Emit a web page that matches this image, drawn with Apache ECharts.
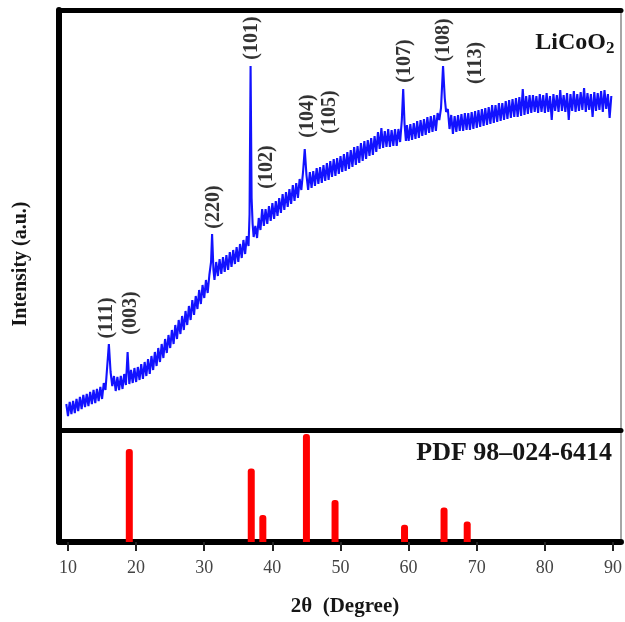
<!DOCTYPE html>
<html>
<head>
<meta charset="utf-8">
<script src="https://cdn.jsdelivr.net/npm/echarts@6/dist/echarts.min.js"></script>
<style>
html,body{margin:0;padding:0;background:#fff;}
#chart{width:625px;height:622px;}
</style>
</head>
<body>
<div id="chart"></div>
<script>
// ---- Data ----
const xTicks = [10, 20, 30, 40, 50, 60, 70, 80, 90];

// measured pattern: [2theta, intensity (a.u.)]
const scanData = [
[9.75,26],[10,14],[10.25,28],[10.5,16],
[10.75,29],[11,17],[11.25,31],[11.5,19],
[11.75,33],[12,21],[12.25,35],[12.5,23],
[12.75,36],[13,24],[13.25,38],[13.5,26],
[13.75,40],[14,27],[14.25,41],[14.5,29],
[14.75,43],[15,31],[15.25,47],[15.5,40],
[15.75,63],[16,86],[16.25,58],[16.5,44],
[16.75,54],[17,39],[17.25,53],[17.5,40],
[17.75,54],[18,41],[18.25,56],[18.5,45],
[18.75,78],[19,46],[19.25,60],[19.5,47],
[19.75,62],[20,48],[20.25,63],[20.5,50],
[20.75,66],[21,51],[21.25,68],[21.5,54],
[21.75,71],[22,56],[22.25,74],[22.5,60],
[22.75,78],[23,64],[23.25,82],[23.5,68],
[23.75,86],[24,72],[24.25,91],[24.5,77],
[24.75,95],[25,82],[25.25,100],[25.5,86],
[25.75,105],[26,91],[26.25,110],[26.5,96],
[26.75,114],[27,100],[27.25,119],[27.5,105],
[27.75,124],[28,110],[28.25,130],[28.5,115],
[28.75,134],[29,121],[29.25,140],[29.5,126],
[29.75,145],[30,132],[30.25,150],[30.5,137],
[30.75,155],[31,168],[31.15,196],[31.35,160],[31.5,150],[31.75,168],
[32,154],[32.25,171],[32.5,156],[32.75,173],
[33,158],[33.25,175],[33.5,160],[33.75,178],
[34,163],[34.25,180],[34.5,166],[34.75,183],
[35,168],[35.25,186],[35.5,172],[35.75,190],
[36,176],[36.25,194],[36.5,184],[36.65,216],[36.8,364],[36.95,232],[37.1,206],
[37.25,193],[37.5,204],[37.75,192],
[38,212],[38.25,200],[38.5,221],[38.75,204],
[39,221],[39.25,206],[39.5,224],[39.75,209],
[40,227],[40.25,211],[40.5,229],[40.75,214],
[41,232],[41.25,217],[41.5,236],[41.75,220],
[42,238],[42.25,223],[42.5,241],[42.75,226],
[43,245],[43.25,229],[43.5,247],[43.75,232],
[44,251],[44.25,240],[44.5,258],[44.75,281],[45,255],[45.25,240],
[45.5,258],[45.75,242],[46,259],[46.25,244],
[46.5,262],[46.75,246],[47,263],[47.25,247],
[47.5,265],[47.75,249],[48,267],[48.25,250],
[48.5,269],[48.75,253],[49,271],[49.25,254],
[49.5,272],[49.75,256],[50,274],[50.25,258],
[50.5,276],[50.75,259],[51,278],[51.25,261],
[51.5,280],[51.75,263],[52,283],[52.25,265],
[52.5,284],[52.75,267],[53,287],[53.25,269],
[53.5,289],[53.75,271],[54,290],[54.25,274],
[54.5,292],[54.75,275],[55,294],[55.25,278],
[55.5,298],[55.75,281],[56,302],[56.25,282],
[56.5,299],[56.75,283],[57,301],[57.25,283],
[57.5,300],[57.75,284],[58,301],[58.25,284],
[58.5,301],[58.75,288],[59,310],[59.2,341],[59.4,306],[59.6,289],
[59.75,305],[60,289],[60.25,306],[60.5,290],
[60.75,307],[61,291],[61.25,309],[61.5,292],
[61.75,310],[62,294],[62.25,311],[62.5,295],
[62.75,313],[63,297],[63.25,314],[63.5,298],
[63.75,315],[64,299],[64.25,317],[64.5,310],
[64.75,322],[65.05,364],[65.3,332],[65.5,318],
[65.75,321],[66,301],[66.25,315],[66.5,296],
[66.75,314],[67,298],[67.25,315],[67.5,299],
[67.75,316],[68,299],[68.25,317],[68.5,300],
[68.75,317],[69,300],[69.25,318],[69.5,301],
[69.75,319],[70,302],[70.25,320],[70.5,303],
[70.75,321],[71,304],[71.25,322],[71.5,305],
[71.75,323],[72,306],[72.25,325],[72.5,307],
[72.75,325],[73,308],[73.25,327],[73.5,309],
[73.75,327],[74,310],[74.25,329],[74.5,311],
[74.75,330],[75,312],[75.25,331],[75.5,313],
[75.75,332],[76,313],[76.25,333],[76.5,314],
[76.75,341],[77,315],[77.25,334],[77.5,316],
[77.75,335],[78,317],[78.25,335],[78.5,318],
[78.75,334],[79,317],[79.25,336],[79.5,318],
[79.75,335],[80,317],[80.25,337],[80.5,318],
[80.75,334],[81,310],[81.25,336],[81.5,319],
[81.75,335],[82,318],[82.25,340],[82.5,319],
[82.75,335],[83,318],[83.25,337],[83.5,310],
[83.75,336],[84,319],[84.25,339],[84.5,318],
[84.75,336],[85,319],[85.25,338],[85.5,320],
[85.75,342],[86,318],[86.25,337],[86.5,320],
[86.75,336],[87,313],[87.25,338],[87.5,319],
[87.75,337],[88,320],[88.25,339],[88.5,318],
[88.75,340],[89,321],[89.25,336],[89.5,312],
[89.75,334]
];

// peak labels: [text, 2theta, intensity at label centre]
const peakLabels = [
  ['(111)', 15.7, 112],
  ['(003)', 19.2, 117],
  ['(220)', 31.4, 223],
  ['(101)', 36.95, 392],
  ['(102)', 39.2, 263],
  ['(104)', 45.2, 314],
  ['(105)', 48.5, 318],
  ['(107)', 59.5, 369],
  ['(108)', 65.2, 390],
  ['(113)', 69.8, 367]
];

// reference pattern PDF 98-024-6414: positions and relative intensities
const refPositions = [19.0, 36.9, 38.6, 45.0, 49.2, 59.4, 65.2, 68.6];
const refIntensity = [86, 68, 25, 100, 39, 16, 32, 19];

const chart = echarts.init(document.getElementById('chart'), null, {renderer: 'canvas'});
const serif = '"Liberation Serif", "Times New Roman", serif';
const X_MIN = 8.68, X_MAX = 91.17;

const hiddenX = (grid, pos, lineW, color) => ({
  type: 'value', gridIndex: grid, position: pos, min: X_MIN, max: X_MAX,
  axisLine: {show: true, onZero: false, lineStyle: {color: color, width: lineW}},
  axisTick: {show: false}, axisLabel: {show: false}, splitLine: {show: false}
});

const option = {
  animation: false,
  backgroundColor: '#ffffff',
  grid: [
    {left: 59, top: 10, width: 562, height: 420},
    {left: 59, top: 430, width: 562, height: 112}
  ],
  xAxis: [
    hiddenX(0, 'bottom', 5, '#000'),
    hiddenX(0, 'top', 5, '#000'),
    {
      type: 'value', gridIndex: 1, position: 'bottom', min: X_MIN, max: X_MAX,
      axisLine: {show: true, onZero: false, lineStyle: {color: '#000', width: 6}},
      axisTick: {show: true, length: 9, inside: false, customValues: xTicks,
        lineStyle: {color: '#222', width: 2}},
      axisLabel: {show: true, customValues: xTicks, margin: 17,
        fontFamily: serif, fontSize: 18, color: '#444'},
      splitLine: {show: false}
    }
  ],
  yAxis: [
    {type: 'value', gridIndex: 0, min: 0, max: 420, position: 'left',
     axisLine: {show: true, onZero: false, lineStyle: {color: '#000', width: 6}},
     axisTick: {show: false}, axisLabel: {show: false}, splitLine: {show: false}},
    {type: 'value', gridIndex: 1, min: 0, max: 103.7, position: 'left',
     axisLine: {show: true, onZero: false, lineStyle: {color: '#000', width: 6}},
     axisTick: {show: false}, axisLabel: {show: false}, splitLine: {show: false}},
    {type: 'value', gridIndex: 0, min: 0, max: 420, position: 'right',
     axisLine: {show: true, onZero: false, lineStyle: {color: '#888', width: 1.5}},
     axisTick: {show: false}, axisLabel: {show: false}, splitLine: {show: false}},
    {type: 'value', gridIndex: 1, min: 0, max: 103.7, position: 'right',
     axisLine: {show: true, onZero: false, lineStyle: {color: '#888', width: 1.5}},
     axisTick: {show: false}, axisLabel: {show: false}, splitLine: {show: false}}
  ],
  series: [
    {
      type: 'line', xAxisIndex: 0, yAxisIndex: 0,
      data: scanData, showSymbol: false, symbol: 'none', silent: true,
      lineStyle: {color: '#1212ff', width: 2.1, join: 'bevel'}
    },
    {
      type: 'scatter', xAxisIndex: 0, yAxisIndex: 0, silent: true,
      symbolSize: 1, itemStyle: {color: 'rgba(255,255,255,0)'},
      data: peakLabels.map(p => ({value: [p[1], p[2]], name: p[0]})),
      label: {show: true, position: 'inside', rotate: 90, formatter: '{b}',
        fontFamily: serif, fontWeight: 700, fontSize: 20, color: '#000',
        textBorderWidth: 0}
    },
    {
      type: 'bar', xAxisIndex: 2, yAxisIndex: 1, silent: true,
      barWidth: 7,
      data: refPositions.map((p, i) => [p, refIntensity[i]]),
      itemStyle: {color: '#ff0000', borderRadius: [3, 3, 0, 0]}
    }
  ],
  graphic: [
    {type: 'text', x: 606, y: 43, silent: true,
     style: {text: 'LiCoO', font: 'bold 24px ' + serif, fill: '#161616', align: 'right', verticalAlign: 'middle'}},
    {type: 'text', x: 606, y: 49, silent: true,
     style: {text: '2', font: 'bold 17px ' + serif, fill: '#161616', align: 'left', verticalAlign: 'middle'}},
    {type: 'text', x: 612, y: 453, silent: true,
     style: {text: 'PDF 98\u2013024-6414', font: 'bold 26px ' + serif, fill: '#161616', align: 'right', verticalAlign: 'middle'}},
    {type: 'text', x: 21, y: 264, rotation: Math.PI / 2, silent: true,
     style: {text: 'Intensity (a.u.)', font: 'bold 20px ' + serif, fill: '#161616', align: 'center', verticalAlign: 'middle'}},
    {type: 'text', x: 345, y: 607, silent: true,
     style: {text: '2\u03B8  (Degree)', font: 'bold 21px ' + serif, fill: '#161616', align: 'center', verticalAlign: 'middle'}}
  ]
};
chart.setOption(option);
</script>
</body>
</html>
